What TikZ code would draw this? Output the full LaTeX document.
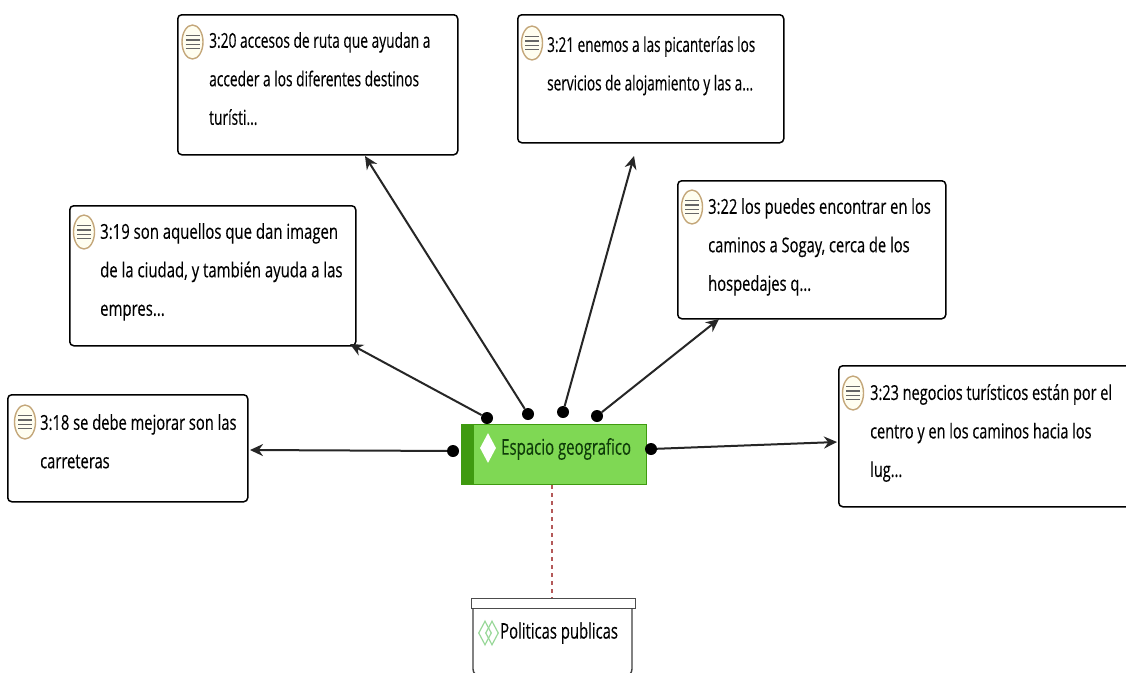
\documentclass[tikz,border=0pt]{standalone}
\usepackage{fontspec}
\setmainfont[FakeStretch=0.69,FakeBold=0.25]{Open Sans}
\usetikzlibrary{arrows.meta,positioning,calc,shapes.geometric}
\definecolor{grn}{HTML}{7FD854}
\definecolor{dgrn}{HTML}{3F9A10}
\definecolor{tgrn}{HTML}{0F3D0A}
\definecolor{docc}{HTML}{C4A77A}
\tikzset{
 x=1pt,y=-1pt,
 memo/.style={draw=black,line width=1.5pt,rounded corners=4pt,fill=white},
 memotext/.style={anchor=north west,align=left,font=\fontsize{20.5}{38.5}\selectfont,text=black,inner sep=0pt,transform shape,xscale=#1},
 dotn/.style={circle,fill=black,inner sep=0pt,minimum width=10pt,minimum height=12pt},
 link/.style={draw=black!85,line width=2pt,-{Stealth[length=13pt,width=12pt]}},
 dashlink/.style={draw=red!55!black!65,line width=1.2pt,dash pattern=on 4pt off 4pt},
 docicon/.style={ellipse,draw=docc,fill=yellow!6,line width=1.4pt,minimum width=21pt,minimum height=34pt,inner sep=0pt},
}
\newcommand{\docglyph}[1]{%
 \foreach \dy in {-6.5,-2.2,2.2,6.5} {\draw[black!60,line width=1.4pt] ($(#1)+(-7,\dy)$) -- ($(#1)+(7,\dy)$);}}
\begin{document}
\begin{tikzpicture}
\useasboundingbox (0,0) rectangle (1126,672);
\fill[white] (0,0) rectangle (1126,672);
% memos
\node[memo,minimum width=280pt,minimum height=140pt,anchor=north west] (m20) at (177,14) {};
\node[memo,minimum width=266pt,minimum height=128pt,anchor=north west] (m21) at (517,14) {};
\node[memo,minimum width=268pt,minimum height=138pt,anchor=north west] (m22) at (677,180) {};
\node[memo,minimum width=286pt,minimum height=140pt,anchor=north west] (m19) at (69,205) {};
\node[memo,minimum width=240pt,minimum height=107pt,anchor=north west] (m18) at (7,394) {};
\node[memo,minimum width=296pt,minimum height=141pt,anchor=north west] (m23) at (838,365) {};
% icons
\node[docicon] (i20) at (192.5,42) {}; \docglyph{i20}
\node[docicon] (i21) at (532,43) {}; \docglyph{i21}
\node[docicon] (i22) at (692,207) {}; \docglyph{i22}
\node[docicon] (i19) at (84,232) {}; \docglyph{i19}
\node[docicon] (i18) at (25,422) {}; \docglyph{i18}
\node[docicon] (i23) at (853,393) {}; \docglyph{i23}
% texts
\node[memotext=0.973] (t20) at (209,32) {3:20 accesos de ruta que ayudan a\\acceder a los diferentes destinos\\turísti...};
\node[memotext=0.96] (t21) at (547,36) {3:21 enemos a las picanterías los\\servicios de alojamiento y las a...};
\node[memotext=1.04] (t22) at (708,198) {3:22 los puedes encontrar en los\\caminos a Sogay, cerca de los\\hospedajes q...};
\node[memotext=1.055] (t19) at (100,223) {3:19 son aquellos que dan imagen\\de la ciudad, y también ayuda a las\\empres...};
\node[memotext=1.04] (t18) at (40,414) {3:18 se debe mejorar son las\\carreteras};
\node[memotext=1.025] (t23) at (870,384) {3:23 negocios turísticos están por el\\centro y en los caminos hacia los\\lug...};
% central code
\node[draw=dgrn,fill=grn,line width=1pt,minimum width=185pt,minimum height=60pt,anchor=north west] (c) at (461,424) {};
\fill[dgrn] (c.north west) rectangle ($(c.south west)+(13,0)$);
\node[diamond,aspect=0.55,fill=white,minimum width=16pt,minimum height=30pt,inner sep=0pt] (cd) at (488,448) {};
\node[anchor=west,font=\fontsize{21.7}{24}\selectfont,text=tgrn,inner sep=0pt] (ct) at (501,449) {Espacio geografico};
% bottom
\node[draw=black!70,line width=1.4pt,minimum width=164pt,minimum height=10pt,anchor=north west,inner sep=0pt] (ph) at (471,598) {};
\draw[black!75,line width=1.4pt,rounded corners=7pt] (473,608) -- (473,676) -- (632,676) -- (632,608);
\node[anchor=west,font=\fontsize{21.5}{24}\selectfont,text=black,inner sep=0pt] (pt) at (500,633) {Politicas publicas};
\node[diamond,aspect=0.7,draw=green!45!gray!55,line width=1.2pt,minimum width=13pt,minimum height=24pt,inner sep=0pt] (pd1) at (485,633) {};
\node[diamond,aspect=0.7,draw=green!45!gray!55,line width=1.2pt,minimum width=13pt,minimum height=24pt,inner sep=0pt] (pd2) at (492,633) {};
% dots
\node[dotn] (d19) at (487,418) {};
\node[dotn] (d20) at (528,414) {};
\node[dotn] (d21) at (563,412) {};
\node[dotn] (d22) at (597,416) {};
\node[dotn] (d18) at (453,451) {};
\node[dotn] (d23) at (651,449) {};
% ends
\coordinate (e19) at (350,344);
\coordinate (e20) at (365,156);
\coordinate (e21) at (634,156);
\coordinate (e22) at (719,319);
\coordinate (e18) at (250,450);
\coordinate (e23) at (837,442);
\draw[link] (d19) -- (e19);
\draw[link] (d20) -- (e20);
\draw[link] (d21) -- (e21);
\draw[link] (d22) -- (e22);
\draw[link] (d18) -- (e18);
\draw[link] (d23) -- (e23);
\draw[dashlink] (c.south -| 552,0) -- (ph.north -| 552,0);
\end{tikzpicture}
\end{document}
